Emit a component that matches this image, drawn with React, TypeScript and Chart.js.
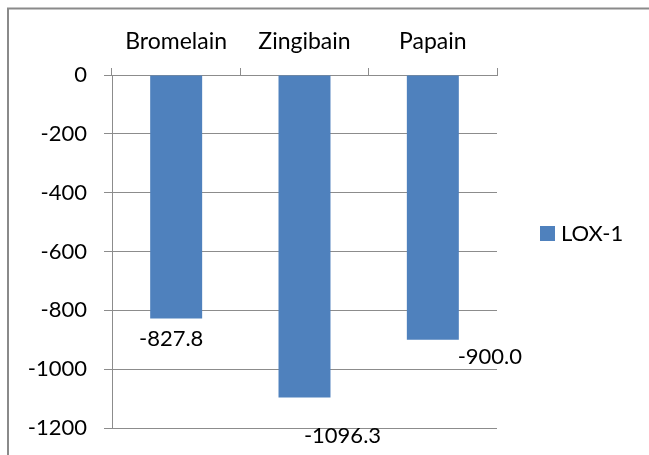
import React, { useEffect, useRef } from 'react';
import { Chart, registerables } from 'chart.js';

Chart.register(...registerables);

const categories = ['Bromelain', 'Zingibain', 'Papain'];
const seriesName = 'LOX-1';
const lox1Values = [-827.8, -1096.3, -900.0];
const yTickValues = [0, -200, -400, -600, -800, -1000, -1200];
const dataLabelTexts = ['-827.8', '-1096.3', '-900.0'];

const FONT_FAMILY = 'Lato, "Open Sans", sans-serif';
const FONT_SIZE = 22;
const BAR_COLOR = '#4F81BD';
const GRID_COLOR = '#8c8c8c';

// label offsets from bar end (presentation only)
const labelOffsets = [
  { dx: -5, dy: 20 },
  { dx: 38, dy: 38 },
  { dx: 57, dy: 17 },
];

const framePlugin = {
  id: 'frame',
  beforeDraw(chart: any) {
    const ctx = chart.ctx;
    ctx.save();
    ctx.fillStyle = '#ffffff';
    ctx.fillRect(0, 0, chart.width, chart.height);
    ctx.strokeStyle = '#8a8a8a';
    ctx.lineWidth = 2;
    ctx.beginPath();
    ctx.moveTo(8, chart.height + 5);
    ctx.lineTo(8, 8.5);
    ctx.lineTo(chart.width + 5, 8.5);
    ctx.stroke();
    ctx.restore();
  },
};

const labelsPlugin = {
  id: 'barLabels',
  afterDatasetsDraw(chart: any) {
    const ctx = chart.ctx;
    const meta = chart.getDatasetMeta(0);
    ctx.save();
    ctx.font = `${FONT_SIZE}px ${FONT_FAMILY}`;
    ctx.fillStyle = '#000000';
    ctx.textAlign = 'center';
    ctx.textBaseline = 'middle';
    meta.data.forEach((bar: any, i: number) => {
      const off = labelOffsets[i] || { dx: 0, dy: 20 };
      ctx.fillText(dataLabelTexts[i], bar.x + off.dx, bar.y + off.dy);
    });
    ctx.restore();
  },
};

const legendPlugin = {
  id: 'customLegend',
  afterDraw(chart: any) {
    const ctx = chart.ctx;
    ctx.save();
    ctx.fillStyle = BAR_COLOR;
    ctx.fillRect(540, 226, 15, 15);
    ctx.font = `${FONT_SIZE}px ${FONT_FAMILY}`;
    ctx.fillStyle = '#000000';
    ctx.textAlign = 'left';
    ctx.textBaseline = 'middle';
    ctx.fillText(seriesName, 561, 234);
    ctx.restore();
  },
};

export default function App() {
  const canvasRef = useRef<HTMLCanvasElement | null>(null);

  useEffect(() => {
    if (!canvasRef.current) return;
    const chart = new Chart(canvasRef.current, {
      type: 'bar',
      data: {
        labels: categories,
        datasets: [
          {
            label: seriesName,
            data: lox1Values,
            backgroundColor: BAR_COLOR,
            borderWidth: 0,
            categoryPercentage: 1,
            barPercentage: 0.405,
          },
        ],
      },
      options: {
        animation: false,
        responsive: true,
        maintainAspectRatio: false,
        layout: { padding: { left: 0, top: 0, right: 152, bottom: 27 } },
        plugins: {
          legend: { display: false },
          tooltip: { enabled: false },
        },
        scales: {
          x: {
            position: 'top',
            afterFit: (scale: any) => {
              scale.height = 75;
            },
            grid: {
              offset: true,
              drawOnChartArea: false,
              drawTicks: true,
              tickLength: 7,
              color: GRID_COLOR,
            },
            border: { display: true, color: GRID_COLOR },
            ticks: {
              color: '#000000',
              padding: 13,
              font: { family: FONT_FAMILY, size: 23 },
              maxRotation: 0,
            },
          },
          y: {
            min: -1200,
            max: 0,
            afterFit: (scale: any) => {
              scale.width = 112;
              scale.paddingTop = 0;
              scale.paddingBottom = 0;
            },
            afterBuildTicks: (scale: any) => {
              scale.ticks = yTickValues.map((v) => ({ value: v }));
            },
            grid: {
              color: GRID_COLOR,
              tickLength: 8,
              drawTicks: true,
            },
            border: { display: true, color: GRID_COLOR },
            ticks: {
              color: '#000000',
              padding: 17,
              font: { family: FONT_FAMILY, size: FONT_SIZE },
              callback: (v: any) => String(v),
            },
          },
        },
      },
      plugins: [framePlugin, labelsPlugin, legendPlugin],
    });
    return () => chart.destroy();
  }, []);

  return (
    <div style={{ position: 'absolute', left: 0, top: 0, width: 649, height: 455, background: '#fff' }}>
      <canvas ref={canvasRef} />
    </div>
  );
}
